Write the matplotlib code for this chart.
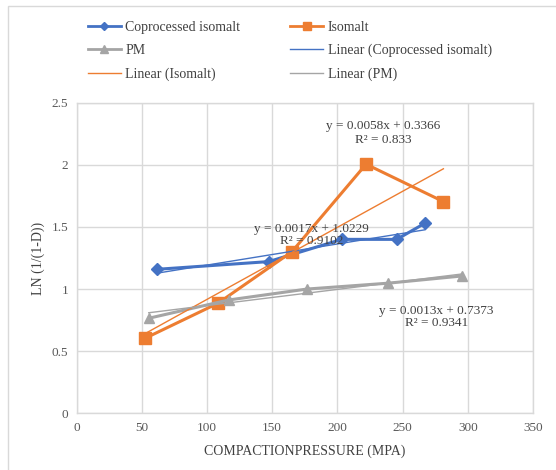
import matplotlib
matplotlib.use("Agg")
import matplotlib.pyplot as plt
from matplotlib.patches import Rectangle
import numpy as np

plt.rcParams['font.family'] = ['Liberation Serif', 'DejaVu Serif']

# ---- data ----
series_names = ["Coprocessed isomalt", "Isomalt", "PM"]
co_x = [61.8, 147.3, 203.4, 245.5, 267.2]
co_y = [1.159, 1.221, 1.40, 1.40, 1.53]
iso_x = [52.8, 108.5, 165.1, 222.0, 281.3]
iso_y = [0.605, 0.886, 1.30, 2.005, 1.704]
pm_x = [55.4, 116.6, 176.6, 238.6, 295.3]
pm_y = [0.765, 0.912, 1.00, 1.047, 1.105]
trend_slope = [0.0017, 0.0058, 0.0013]
trend_intercept = [1.0229, 0.3366, 0.7373]
trend_r2 = ["0.9102", "0.833", "0.9341"]
x_ticks = [0, 50, 100, 150, 200, 250, 300, 350]
y_ticks = [0, 0.5, 1, 1.5, 2, 2.5]

colors = ["#4472C4", "#ED7D31", "#A5A5A5"]
markers = ["D", "s", "^"]
msizes = [6, 8, 7.5]
leg_msizes = [4.5, 6, 6]

W, H = 556, 470
fig = plt.figure(figsize=(W / 100, H / 100), dpi=100)
fig.patches.append(Rectangle((8 / W, -0.1), 1.2, (H - 5.5) / H + 0.1,
                             transform=fig.transFigure, fill=False,
                             edgecolor="#D9D9D9", linewidth=1.0))

ax = fig.add_axes([76.5 / W, (H - 413.3) / H, (533 - 76.5) / W, (413.3 - 102.7) / H])
ax.set_xlim(0, 350)
ax.set_ylim(0, 2.5)
ax.set_xticks(x_ticks)
ax.set_yticks(y_ticks)
ax.set_yticklabels([f"{v:g}" for v in y_ticks])
ax.grid(True, color="#D9D9D9", linewidth=1.0)
ax.set_axisbelow(True)
for s in ax.spines.values():
    s.set_color("#D9D9D9")
    s.set_linewidth(1.0)
ax.tick_params(length=0, labelsize=9.5, colors="#595959", pad=6)

xs_all = [co_x, iso_x, pm_x]
ys_all = [co_y, iso_y, pm_y]
data_handles = []
trend_handles = []
for i in range(3):
    h, = ax.plot(xs_all[i], ys_all[i], color=colors[i], linewidth=2.2,
                 marker=markers[i], markersize=msizes[i], zorder=3)
    data_handles.append(h)
    xr = np.array([min(xs_all[i]), max(xs_all[i])])
    t, = ax.plot(xr, trend_slope[i] * xr + trend_intercept[i],
                 color=colors[i], linewidth=1.0, zorder=4)
    trend_handles.append(t)

eq_pos = [(180.1, 1.481, 1.383), (235.0, 2.315, 2.20), (275.9, 0.826, 0.724)]
for i in range(3):
    x, y1, y2 = eq_pos[i]
    ax.text(x, y1, f"y = {trend_slope[i]:.4f}x + {trend_intercept[i]:.4f}",
            ha="center", va="center", fontsize=9.5, color="#404040", zorder=5)
    ax.text(x, y2, f"R² = {trend_r2[i]}", ha="center", va="center",
            fontsize=9.5, color="#404040", zorder=5)

ax.set_xlabel("COMPACTIONPRESSURE (MPA)", fontsize=10, color="#404040", labelpad=8)
ax.set_ylabel("LN (1/(1-D))", fontsize=10, color="#404040", labelpad=5)

handles = [data_handles[0], data_handles[2], trend_handles[1],
           data_handles[1], trend_handles[0], trend_handles[2]]
labels = ["Coprocessed isomalt", "PM", "Linear (Isomalt)",
          "Isomalt", "Linear (Coprocessed isomalt)", "Linear (PM)"]
leg = fig.legend(handles, labels, ncol=2, loc="upper left",
                 bbox_to_anchor=(82 / W, 1 - 15 / H), frameon=False,
                 fontsize=10, handlelength=2.4, handletextpad=0.3,
                 columnspacing=3.6, labelspacing=0.75, borderaxespad=0)
for t in leg.get_texts():
    t.set_color("#404040")
lh = leg.legend_handles
size_map = {0: leg_msizes[0], 1: leg_msizes[2], 3: leg_msizes[1]}
for idx, ms in size_map.items():
    lh[idx].set_markersize(ms)
    lh[idx].set_linewidth(2.0)

fig.savefig("out.png", dpi=100)
